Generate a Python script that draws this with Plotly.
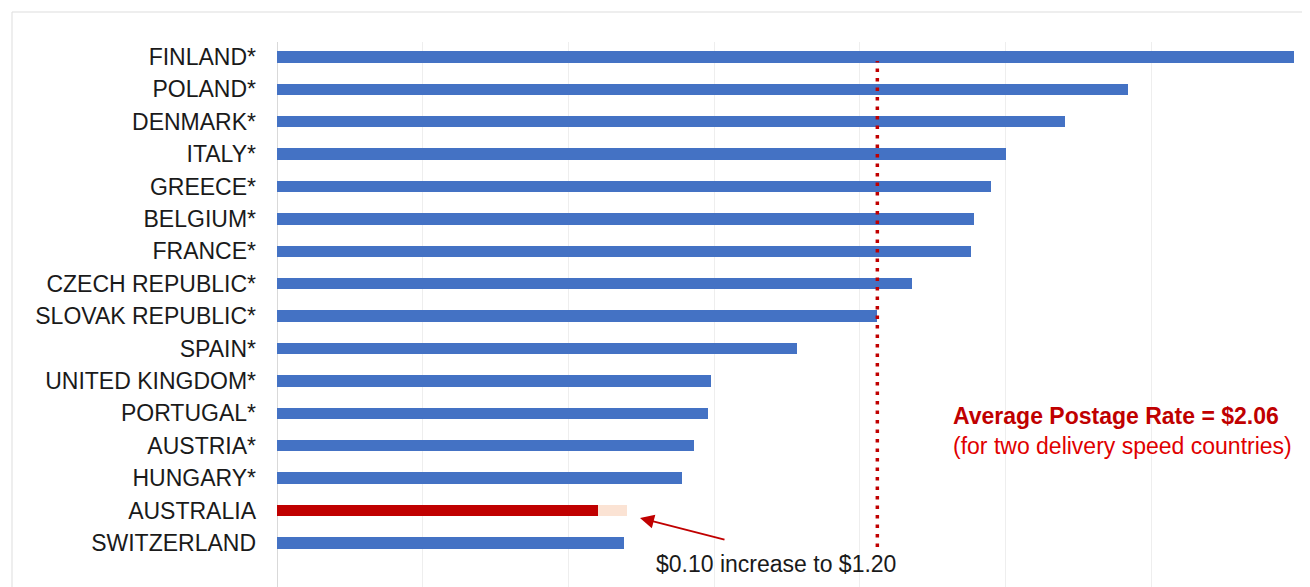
import plotly.graph_objects as go

countries = ["FINLAND*", "POLAND*", "DENMARK*", "ITALY*", "GREECE*", "BELGIUM*", "FRANCE*",
             "CZECH REPUBLIC*", "SLOVAK REPUBLIC*", "SPAIN*", "UNITED KINGDOM*", "PORTUGAL*",
             "AUSTRIA*", "HUNGARY*", "AUSTRALIA", "SWITZERLAND"]
rates = [3.49, 2.92, 2.705, 2.50, 2.45, 2.39, 2.38, 2.18, 2.06, 1.785, 1.49, 1.48, 1.43, 1.39, 1.10, 1.19]
increase = [0, 0, 0, 0, 0, 0, 0, 0, 0, 0, 0, 0, 0, 0, 0.10, 0]
average_rate = 2.06

BLUE = "#4472C4"
RED = "#C00000"
PEACH = "#FBE3D4"
FONT = "Liberation Sans, Arial"

colors = [RED if c == "AUSTRALIA" else BLUE for c in countries]

fig = go.Figure()
fig.add_trace(go.Bar(y=countries, x=rates, orientation="h", marker=dict(color=colors, line=dict(width=0)),
                     width=0.35, showlegend=False, hoverinfo="x+y"))
fig.add_trace(go.Bar(y=countries, x=increase, orientation="h", marker=dict(color=PEACH, line=dict(width=0)),
                     width=0.35, showlegend=False, hoverinfo="x+y"))

# page body offset of 8px
OFF = 8
WIN_W, WIN_H = 1310, 587
W, H = WIN_W - OFF, WIN_H - OFF
PL, PR, PT, PB = 277, 1297, 42, 587      # plot area in window pixels
L, R, T, B = PL - OFF, OFF + W - PR, PT - OFF, OFF + H - PB
pw, ph = PR - PL, PB - PT
ppu = pw / 3.5

def py(ypx):
    return (PB - ypx) / ph

def pxx(xpx):
    return (xpx - PL) / pw

def dx(xpx):
    return (xpx - PL) / ppu

fig.add_shape(type="line", xref="x", yref="paper", x0=average_rate, x1=average_rate,
              y0=py(547), y1=py(61), line=dict(color=RED, width=3.5, dash="3.5px,6px"))

# outer frame
fig.add_shape(type="line", xref="paper", yref="paper", x0=pxx(12), x1=pxx(1310), y0=py(12), y1=py(12),
              line=dict(color="#DDDDDD", width=1))
fig.add_shape(type="line", xref="paper", yref="paper", x0=pxx(12), x1=pxx(12), y0=py(12), y1=py(600),
              line=dict(color="#DDDDDD", width=1))

fig.add_annotation(x=dx(951), xref="x", y=py(431), yref="paper", xanchor="left", yanchor="middle",
                   align="left",
                   text="<b>Average Postage Rate = $2.06</b><br>"
                        "<span style='color:#E00000'>(for two delivery speed countries)</span>",
                   showarrow=False, font=dict(family=FONT, size=23, color=RED))

fig.add_annotation(x=dx(640), xref="x", y=py(518), yref="paper", ax=86, ay=22,
                   axref="pixel", ayref="pixel", text="", showarrow=True, arrowhead=2, arrowsize=1.4,
                   arrowwidth=2, arrowcolor=RED)
fig.add_annotation(x=dx(776), xref="x", y=py(564), yref="paper", xanchor="center", yanchor="middle",
                   text="$0.10 increase to $1.20", showarrow=False,
                   font=dict(family=FONT, size=23, color="#1A1A1A"))

fig.update_layout(
    width=W, height=H, barmode="stack",
    margin=dict(l=L, r=R, t=T, b=B, pad=0),
    plot_bgcolor="white", paper_bgcolor="white",
    font=dict(family=FONT, size=23, color="#1A1A1A"),
    xaxis=dict(range=[0, 3.5], dtick=0.5, showgrid=True, gridcolor="#EEEEEE", gridwidth=1,
               showticklabels=False, zeroline=True, zerolinecolor="#D9D9D9", zerolinewidth=1,
               showline=False, fixedrange=True),
    yaxis=dict(categoryorder="array", categoryarray=countries, range=[16.36, -0.46],
               showgrid=False, showline=False, ticks="", ticklabelstandoff=20,
               tickfont=dict(family=FONT, size=23, color="#1A1A1A")),
)

fig.write_html("out.html")
